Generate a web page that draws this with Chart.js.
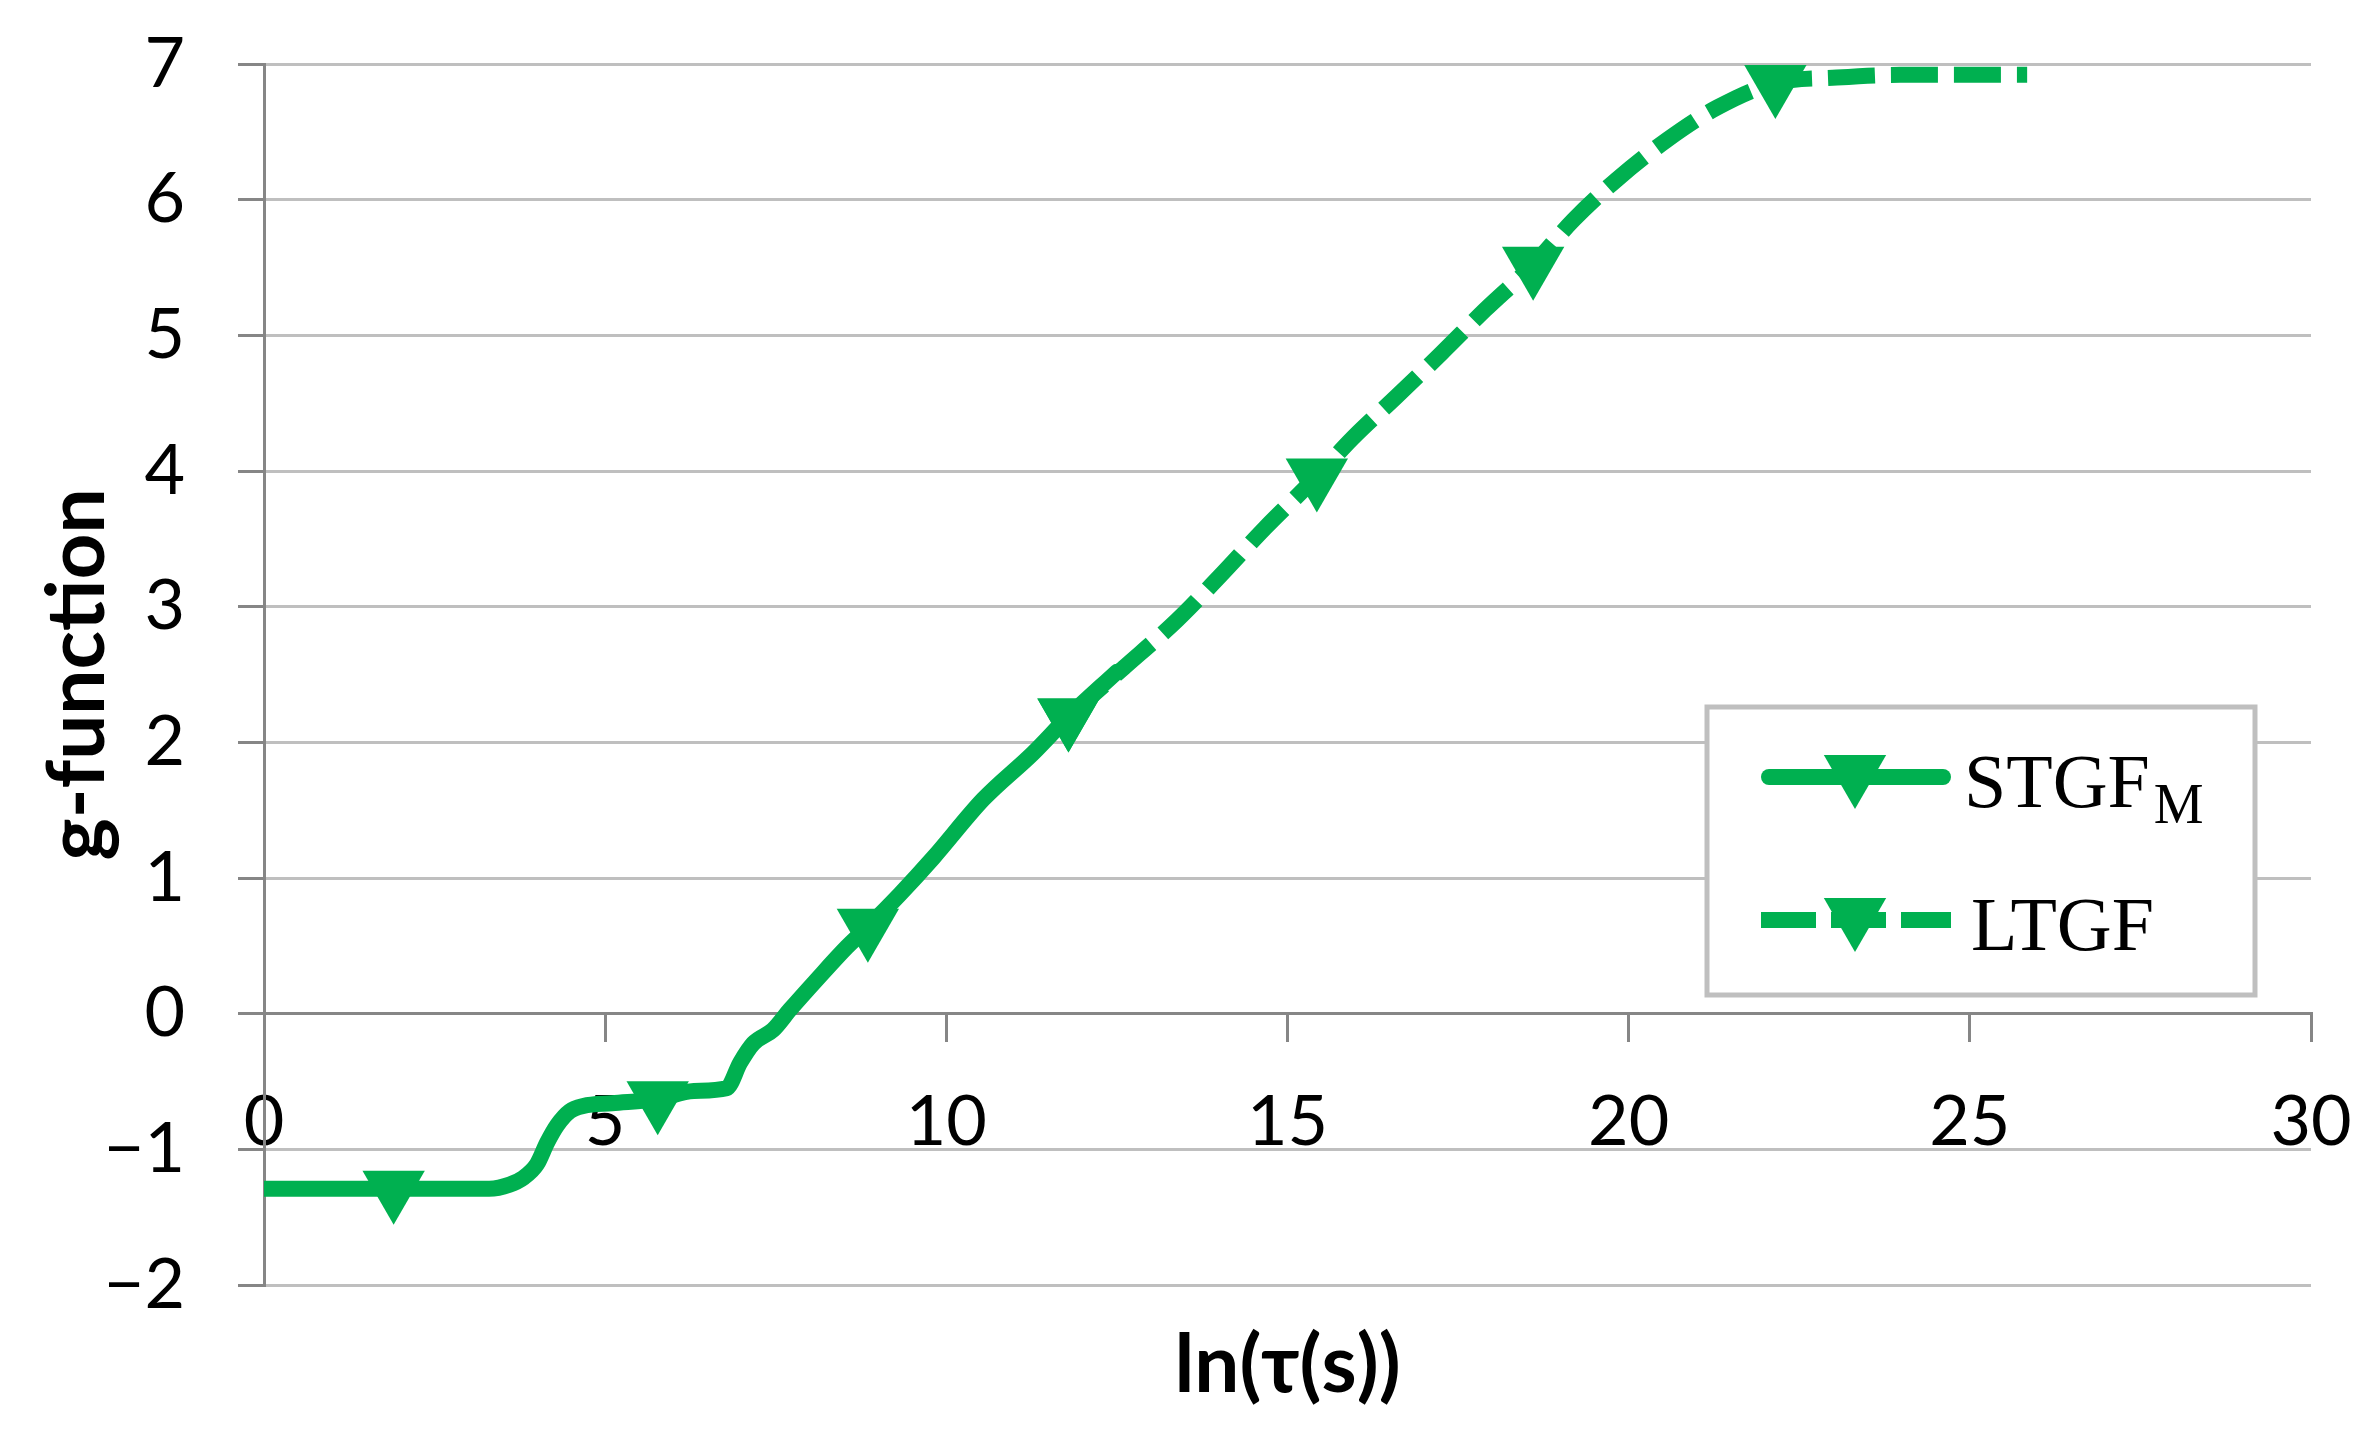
<!DOCTYPE html>
<html>
<head>
<meta charset="utf-8">
<script src="https://cdn.jsdelivr.net/npm/chart.js@4.4.1/dist/chart.umd.min.js"></script>
<style>
  html, body { margin: 0; padding: 0; background: #fff; }
  #wrap { width: 2379px; height: 1455px; position: relative; }
</style>
</head>
<body>
<div id="wrap"><canvas id="gChart"></canvas></div>
<script>
// STGF_M curve (solid)
const stgfX = [0, 1.9, 3.3, 3.6, 3.8, 4.0, 4.15, 4.3, 4.48, 4.68, 5.1, 5.77, 6.3, 6.78, 6.98, 7.17, 7.46, 7.71, 8.1, 8.54, 8.85, 9.32, 9.81, 10.54, 11.27, 11.79, 12.5];
const stgfY = [-1.29, -1.29, -1.29, -1.26, -1.21, -1.11, -0.95, -0.82, -0.72, -0.68, -0.66, -0.63, -0.57, -0.55, -0.36, -0.22, -0.12, 0.03, 0.25, 0.49, 0.64, 0.88, 1.15, 1.58, 1.92, 2.19, 2.52];
const stgfMarkers = [1.9, 5.77, 8.85, 11.79];

// LTGF curve (dashed)
const ltgfX = [11.79, 12.6, 13.38, 14.0, 14.67, 15.43, 15.95, 16.6, 17.26, 17.9, 18.6, 19.19, 19.83, 20.56, 21.3, 22.15, 23.05, 23.98, 25.84];
const ltgfY = [2.19, 2.55, 2.90, 3.22, 3.58, 3.96, 4.24, 4.55, 4.87, 5.19, 5.52, 5.85, 6.15, 6.44, 6.68, 6.86, 6.90, 6.92, 6.92];
const ltgfMarkers = [11.79, 15.43, 18.6, 22.15];

const xTicks = [0, 5, 10, 15, 20, 25, 30];
const yTicks = [-2, -1, 0, 1, 2, 3, 4, 5, 6, 7];

const green = '#00B050';
const axisGray = '#868686';
const gridGray = '#bfbfbf';

const toPoints = (xs, ys) => xs.map((x, i) => ({ x: x, y: ys[i] }));

// keep the plot box where the layout padding puts it
const noPad = s => {
  s.paddingTop = 0; s.paddingBottom = 0;
  s.paddingLeft = 0; s.paddingRight = 0;
};

// legend box drawn inside the plot, like the Excel one
const boxLegend = {
  id: 'boxLegend',
  afterDraw(chart) {
    const ctx = chart.ctx;
    ctx.save();
    ctx.fillStyle = '#fff';
    ctx.fillRect(1707, 707, 548, 288);
    ctx.strokeStyle = gridGray;
    ctx.lineWidth = 5;
    ctx.strokeRect(1707, 707, 548, 288);

    ctx.strokeStyle = green;
    ctx.fillStyle = green;
    ctx.lineWidth = 16;
    // solid row
    ctx.lineCap = 'round';
    ctx.beginPath();
    ctx.moveTo(1769, 777);
    ctx.lineTo(1943, 777);
    ctx.stroke();
    // dashed row
    ctx.lineCap = 'butt';
    ctx.setLineDash([55, 15]);
    ctx.beginPath();
    ctx.moveTo(1761, 920);
    ctx.lineTo(1951, 920);
    ctx.stroke();
    ctx.setLineDash([]);

    const tri = { pointStyle: 'triangle', rotation: 180, radius: 36, borderWidth: 0 };
    Chart.helpers.drawPoint(ctx, tri, 1855, 773);
    Chart.helpers.drawPoint(ctx, tri, 1855, 916);

    ctx.fillStyle = '#000';
    ctx.textBaseline = 'alphabetic';
    ctx.textAlign = 'left';
    ctx.font = '76px "Liberation Serif"';
    ctx.fillText('STGF', 1964, 807);
    const w = ctx.measureText('STGF').width;
    ctx.font = '56px "Liberation Serif"';
    ctx.fillText('M', 1964 + w + 4, 823);
    ctx.font = '76px "Liberation Serif"';
    ctx.fillText('LTGF', 1971, 950);
    ctx.restore();
  }
};

const gCanvas = document.getElementById('gChart');

let gChart = new Chart(gCanvas, {
  type: 'line',
  data: {
    datasets: [
      {
        label: 'STGF_M',
        data: toPoints(stgfX, stgfY),
        borderColor: green,
        backgroundColor: green,
        borderWidth: 16,
        borderCapStyle: 'round',
        borderJoinStyle: 'round',
        cubicInterpolationMode: 'monotone',
        pointStyle: 'triangle',
        rotation: 180,
        pointRadius: c => (c.raw && stgfMarkers.includes(c.raw.x)) ? 36 : 0,
        pointBorderWidth: 0,
        pointBackgroundColor: green,
        xAxisID: 'x'
      },
      {
        label: 'LTGF',
        data: toPoints(ltgfX, ltgfY),
        borderColor: green,
        backgroundColor: green,
        borderWidth: 16,
        borderDash: [47, 16],
        borderCapStyle: 'butt',
        cubicInterpolationMode: 'monotone',
        pointStyle: 'triangle',
        rotation: 180,
        pointRadius: c => (c.raw && ltgfMarkers.includes(c.raw.x)) ? 36 : 0,
        pointBorderWidth: 0,
        pointBackgroundColor: green,
        xAxisID: 'x'
      }
    ]
  },
  options: {
    responsive: true,
    maintainAspectRatio: false,
    animation: false,
    layout: { padding: { top: 64, right: 68, left: 0, bottom: 0 } },
    plugins: {
      legend: { display: false },
      tooltip: { enabled: false }
    },
    scales: {
      x: {
        type: 'linear',
        position: { y: 0 },
        min: 0,
        max: 30,
        afterBuildTicks: s => { s.ticks = xTicks.map(v => ({ value: v })); },
        afterFit: s => { s.height = 0; noPad(s); },
        ticks: {
          color: '#000',
          font: { family: 'Lato', size: 70 },
          padding: 40,
          maxRotation: 0,
          autoSkip: false
        },
        grid: {
          drawOnChartArea: false,
          drawTicks: true,
          tickLength: 27,
          color: axisGray,
          lineWidth: 3
        },
        border: { color: axisGray, width: 3 }
      },
      x2: {
        type: 'linear',
        position: 'bottom',
        min: 0,
        max: 30,
        afterFit: s => { s.height = 170; noPad(s); },
        ticks: { display: false },
        grid: { display: false },
        border: { display: false },
        title: {
          display: true,
          text: 'ln(τ(s))',
          color: '#000',
          font: { family: 'Lato', size: 80, weight: 'bold' },
          padding: { top: 0, bottom: 41 }
        }
      },
      y: {
        type: 'linear',
        min: -2,
        max: 7,
        afterBuildTicks: s => { s.ticks = yTicks.map(v => ({ value: v })); },
        afterFit: s => { s.width = 264; noPad(s); },
        ticks: {
          color: '#000',
          font: { family: 'Lato', size: 70 },
          padding: 53,
          callback: v => v < 0 ? '\u2212' + Math.abs(v) : String(v)
        },
        grid: {
          z: -1,
          color: gridGray,
          tickColor: axisGray,
          lineWidth: 3,
          tickLength: 26
        },
        border: { color: axisGray, width: 3 },
        title: {
          display: true,
          text: 'g-function',
          color: '#000',
          font: { family: 'Lato', size: 80, weight: 'bold' },
          padding: { top: 30, bottom: 0 }
        }
      }
    }
  },
  plugins: [boxLegend]
});
</script>
</body>
</html>
